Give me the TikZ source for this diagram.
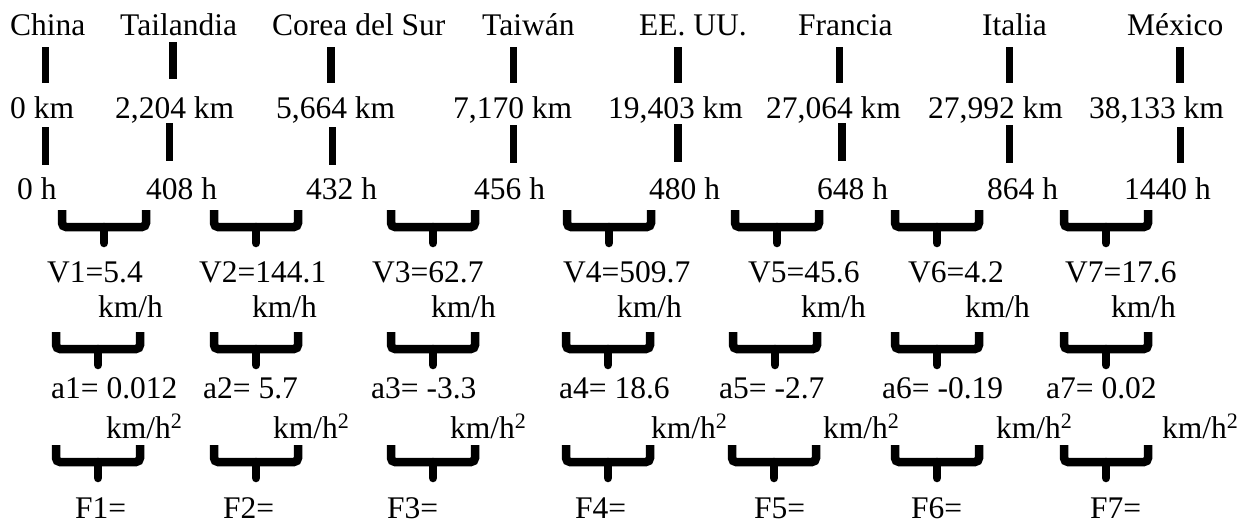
\documentclass[tikz,border=0pt]{standalone}
\usepackage{fontspec}
\setmainfont{Liberation Serif}
\begin{document}
\begin{tikzpicture}[x=1pt,y=-1pt,
  lbl/.style={anchor=base west, inner sep=0pt, font=\fontsize{31.5}{37}\selectfont},
  tick/.style={line width=7.5pt},
  bracket/.pic={
    \draw[line width=8.5pt, rounded corners=4pt] (-42,0) -- (-42,17) -- (42,17) -- (42,0);
    \draw[line width=8.5pt, line cap=round] (0,17) -- (0,33);
  }]
\useasboundingbox (0,0) rectangle (1244,523);

% countries
\foreach \x/\t [count=\i] in {10/China, 120/Tailandia, 272/Corea del Sur, 482/Taiwán,
    639/EE. UU., 798/Francia, 982/Italia, 1127/México}
  \node[lbl] (c\i) at (\x,35) {\t};

% distances
\foreach \x/\t [count=\i] in {10/{0 km}, 115/{2,204 km}, 276/{5,664 km}, 453/{7,170 km},
    608/{19,403 km}, 766/{27,064 km}, 928/{27,992 km}, 1089/{38,133 km}}
  \node[lbl] (d\i) at (\x,118) {\t};

% times
\foreach \x/\t [count=\i] in {17/{0 h}, 146/{408 h}, 306/{432 h}, 474/{456 h},
    649/{480 h}, 817/{648 h}, 987/{864 h}, 1124/{1440 h}}
  \node[lbl] (h\i) at (\x,199) {\t};

% ticks: country -> distance
\foreach \x/\a/\b in {45.5/47/83, 173/42/79, 331/47/83, 513.5/47/83,
    678/47/83, 839.5/47/83, 1009.5/47/83, 1180/47/83}
  \draw[tick] (\x,\a) -- (\x,\b);

% ticks: distance -> time
\foreach \x/\a/\b in {45.5/127/165, 169.5/123/161, 332.5/127/165, 513.5/125/163,
    678/124/162, 842/123/161, 1009.5/125/163, 1180.5/127/163}
  \draw[tick] (\x,\a) -- (\x,\b);

% brackets under the times
\foreach \x in {104, 256, 433, 609, 777, 937, 1106}
  \pic at (\x,210) {bracket};

% speeds
\foreach \x/\t [count=\i] in {47/{V1=5.4}, 199/{V2=144.1}, 372/{V3=62.7}, 563/{V4=509.7},
    748/{V5=45.6}, 908/{V6=4.2}, 1065/{V7=17.6}}
  \node[lbl] (v\i) at (\x,282) {\t};
\foreach \x [count=\i] in {98, 252, 431, 617, 801, 965, 1111}
  \node[lbl] (vu\i) at (\x,317) {km/h};

% brackets under the speeds
\foreach \x in {98, 256, 433, 608, 775, 937, 1106}
  \pic at (\x,332) {bracket};

% accelerations
\foreach \x/\t [count=\i] in {51/{a1= 0.012}, 203/{a2= 5.7}, 371/{a3= -3.3}, 559/{a4= 18.6},
    719/{a5= -2.7}, 882/{a6= -0.19}, 1046/{a7= 0.02}}
  \node[lbl] (a\i) at (\x,398) {\t};
\foreach \x [count=\i] in {106, 273, 450, 651, 823, 996, 1162}
  \node[lbl] (au\i) at (\x,438) {km/h\textsuperscript{2}};

% brackets under the accelerations
\foreach \x in {98, 256, 433, 608, 774, 937, 1106}
  \pic at (\x,445) {bracket};

% forces
\foreach \x [count=\i] in {75, 223, 387, 575, 754, 911, 1090}
  \node[lbl] (f\i) at (\x,518) {F\i=};
\end{tikzpicture}
\end{document}
